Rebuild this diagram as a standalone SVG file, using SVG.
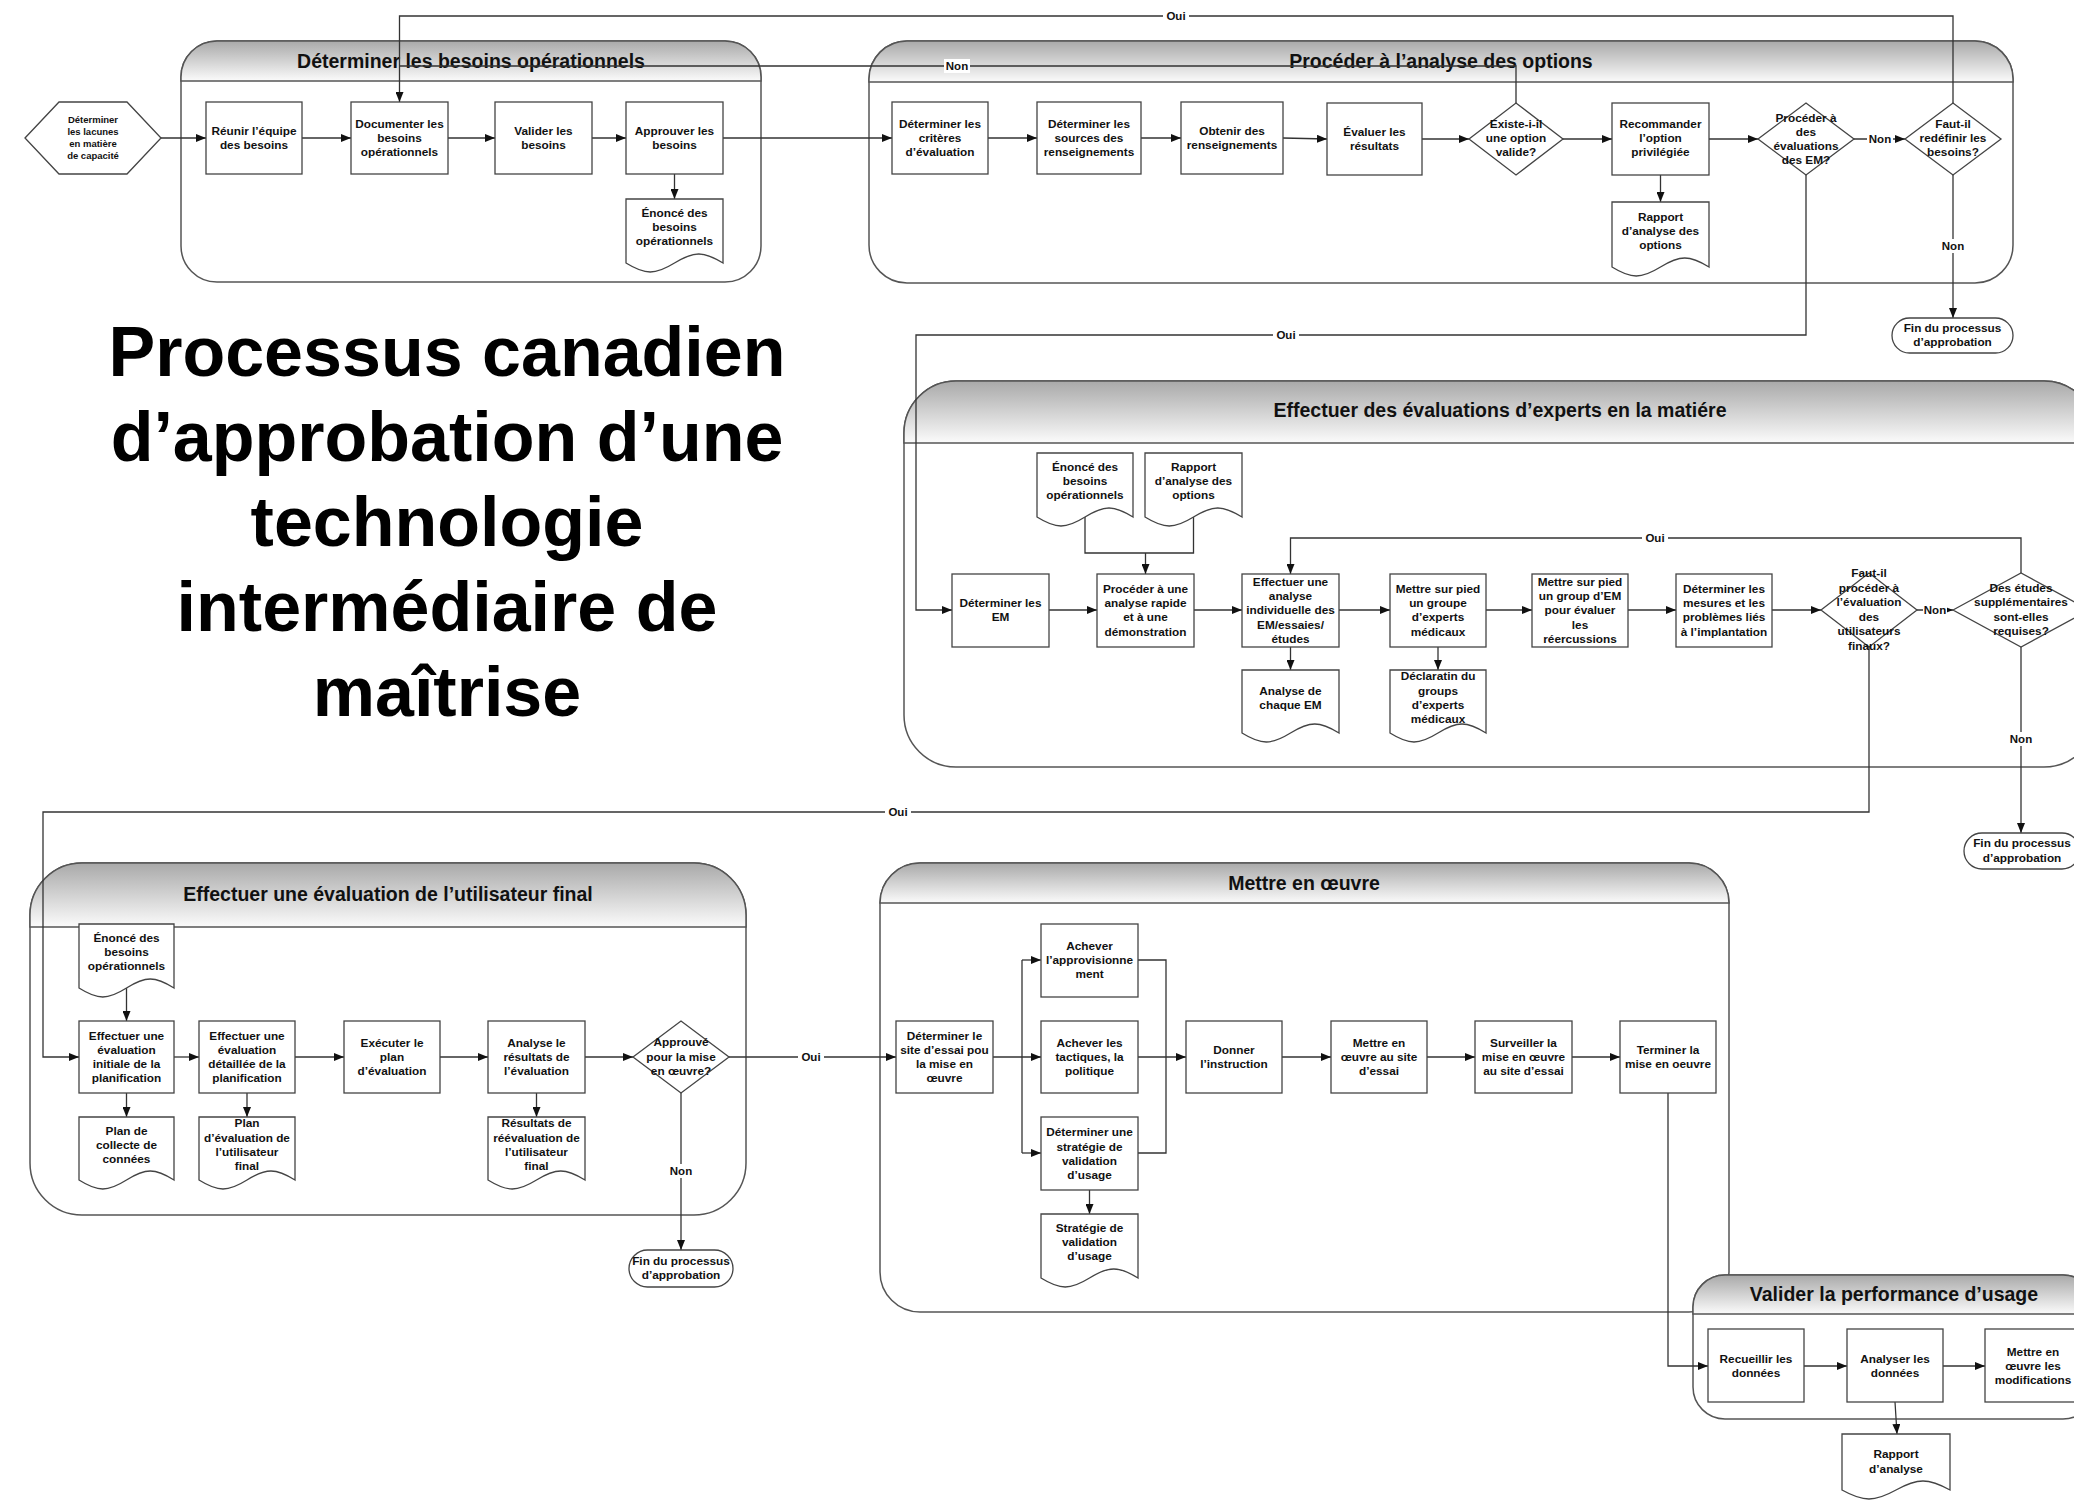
<svg xmlns="http://www.w3.org/2000/svg" width="2074" height="1501" viewBox="0 0 2074 1501">
<defs>
<linearGradient id="hg" x1="0" y1="0" x2="0" y2="1"><stop offset="0" stop-color="#a9a9a9"/><stop offset="1" stop-color="#fbfbfb"/></linearGradient>
<marker id="ah" viewBox="0 0 10 8" refX="10" refY="4" markerWidth="10" markerHeight="8" markerUnits="userSpaceOnUse" orient="auto"><path d="M0,0L10,4L0,8z" fill="#111"/></marker>
<style>
.pool{fill:#fff;stroke:#555;stroke-width:1.5}
.hdr{fill:url(#hg);stroke:#555;stroke-width:1.5}
.pt{font:bold 19.5px 'Liberation Sans',Arial,sans-serif;text-anchor:middle;fill:#111}
.b{fill:#fff;stroke:#444;stroke-width:1.3}
.t{font:bold 11.8px 'Liberation Sans',Arial,sans-serif;text-anchor:middle;fill:#111}
.hx{font:bold 9.5px 'Liberation Sans',Arial,sans-serif;text-anchor:middle;fill:#111}
.c{fill:none;stroke:#333;stroke-width:1.3}
.a{marker-end:url(#ah)}
.lb{font:bold 11.5px 'Liberation Sans',Arial,sans-serif;text-anchor:middle;fill:#111}
.lbg{fill:#fff}
.big{font:bold 70px 'Liberation Sans',Arial,sans-serif;text-anchor:middle;fill:#000}
</style>
</defs>
<rect width="2074" height="1501" fill="#fff"/>

<g id="title">
<text class="big"><tspan x="447" y="376">Processus canadien</tspan><tspan x="447" y="461">d’approbation d’une</tspan><tspan x="447" y="546">technologie</tspan><tspan x="447" y="631">intermédiaire de</tspan><tspan x="447" y="716">maîtrise</tspan></text>
</g>

<g id="pools">
<g id="pool-besoins">
<rect class="pool" x="181" y="41" width="580" height="241" rx="36"/>
<path class="hdr" d="M181,81V77A36,36 0 0 1 217,41H725A36,36 0 0 1 761,77V81Z"/>
<text class="pt" x="471" y="68">Déterminer les besoins opérationnels</text>
</g>
<g id="pool-options">
<rect class="pool" x="869" y="41" width="1144" height="242" rx="38"/>
<path class="hdr" d="M869,82V79A38,38 0 0 1 907,41H1975A38,38 0 0 1 2013,79V82Z"/>
<text class="pt" x="1441" y="68">Procéder à l’analyse des options</text>
</g>
<g id="pool-experts">
<rect class="pool" x="904" y="381" width="1192" height="386" rx="52"/>
<path class="hdr" d="M904,443V433A52,52 0 0 1 956,381H2044A52,52 0 0 1 2096,433V443Z"/>
<text class="pt" x="1500" y="417">Effectuer des évaluations d’experts en la matiére</text>
</g>
<g id="pool-utilisateur">
<rect class="pool" x="30" y="863" width="716" height="352" rx="52"/>
<path class="hdr" d="M30,927V915A52,52 0 0 1 82,863H694A52,52 0 0 1 746,915V927Z"/>
<text class="pt" x="388" y="901">Effectuer une évaluation de l’utilisateur final</text>
</g>
<g id="pool-oeuvre">
<rect class="pool" x="880" y="863" width="849" height="449" rx="40"/>
<path class="hdr" d="M880,903A40,40 0 0 1 920,863H1689A40,40 0 0 1 1729,903Z"/>
<text class="pt" x="1304" y="890">Mettre en œuvre</text>
</g>
<g id="pool-valider">
<rect class="pool" x="1693" y="1275" width="402" height="144" rx="32"/>
<path class="hdr" d="M1693,1314V1307A32,32 0 0 1 1725,1275H2063A32,32 0 0 1 2095,1307V1314Z"/>
<text class="pt" x="1894" y="1301">Valider la performance d’usage</text>
</g>
</g>

<g id="connectors">
<path class="c a" d="M161,138H206"/>
<path class="c a" d="M302,138H351"/>
<path class="c a" d="M448,138H495"/>
<path class="c a" d="M592,138H626"/>
<path class="c a" d="M674.5,174V199"/>
<path class="c a" d="M723,138H892"/>
<path class="c a" d="M988,138H1037"/>
<path class="c a" d="M1141,138H1181"/>
<path class="c a" d="M1283,138L1327,139"/>
<path class="c a" d="M1422,139H1469"/>
<path class="c a" d="M1563,139H1612"/>
<path class="c a" d="M1660.5,175V202"/>
<path class="c a" d="M1709,139H1758"/>
<path class="c a" d="M1854,139H1905"/>
<path class="c a" d="M1953,103V16H399.5V102"/>
<path class="c" d="M1516,103V66H399.5"/>
<path class="c a" d="M1953,175V318"/>
<path class="c a" d="M1806,175V335H916V610H952"/>
<path class="c a" d="M1049,610H1097"/>
<path class="c a" d="M1194,610H1242"/>
<path class="c a" d="M1339,610H1390"/>
<path class="c a" d="M1486,610H1532"/>
<path class="c a" d="M1628,610H1676"/>
<path class="c a" d="M1772,610H1821"/>
<path class="c a" d="M1917,610H1953"/>
<path class="c" d="M1085,517V553H1193.5V517"/>
<path class="c a" d="M1145.5,553V574"/>
<path class="c a" d="M1290.5,647V670"/>
<path class="c a" d="M1438,647V670"/>
<path class="c a" d="M2021,573V538H1290.5V574"/>
<path class="c a" d="M2021,647V833"/>
<path class="c a" d="M1869,647V812H43V1057H79"/>
<path class="c a" d="M126.5,988V1021"/>
<path class="c a" d="M174,1057H199"/>
<path class="c a" d="M295,1057H344"/>
<path class="c a" d="M440,1057H488"/>
<path class="c a" d="M585,1057H633"/>
<path class="c a" d="M126.5,1093V1117"/>
<path class="c a" d="M247,1093V1117"/>
<path class="c a" d="M536.5,1093V1117"/>
<path class="c a" d="M681,1093V1250"/>
<path class="c a" d="M729,1057H896"/>
<path class="c a" d="M993,1057H1041"/>
<path class="c" d="M1022,960V1153"/>
<path class="c a" d="M1022,960H1041"/>
<path class="c a" d="M1022,1153H1041"/>
<path class="c" d="M1138,960H1166V1153H1138"/>
<path class="c a" d="M1138,1057H1186"/>
<path class="c a" d="M1089.5,1190V1214"/>
<path class="c a" d="M1282,1057H1331"/>
<path class="c a" d="M1427,1057H1475"/>
<path class="c a" d="M1572,1057H1620"/>
<path class="c a" d="M1668,1093V1366H1708"/>
<path class="c a" d="M1804,1366H1847"/>
<path class="c a" d="M1943,1366H1985"/>
<path class="c a" d="M1895,1402L1897,1434"/>
<g id="labels">
<rect class="lbg" x="1163" y="9" width="26" height="14"/><text class="lb" x="1176" y="20">Oui</text>
<rect class="lbg" x="944" y="59" width="26" height="14"/><text class="lb" x="957" y="70">Non</text>
<rect class="lbg" x="1867" y="132" width="26" height="14"/><text class="lb" x="1880" y="143">Non</text>
<rect class="lbg" x="1940" y="239" width="26" height="14"/><text class="lb" x="1953" y="250">Non</text>
<rect class="lbg" x="1273" y="328" width="26" height="14"/><text class="lb" x="1286" y="339">Oui</text>
<rect class="lbg" x="1642" y="531" width="26" height="14"/><text class="lb" x="1655" y="542">Oui</text>
<rect class="lbg" x="1923" y="603" width="24" height="14"/><text class="lb" x="1935" y="614">Non</text>
<rect class="lbg" x="2008" y="732" width="26" height="14"/><text class="lb" x="2021" y="743">Non</text>
<rect class="lbg" x="885" y="805" width="26" height="14"/><text class="lb" x="898" y="816">Oui</text>
<rect class="lbg" x="798" y="1050" width="26" height="14"/><text class="lb" x="811" y="1061">Oui</text>
<rect class="lbg" x="668" y="1164" width="26" height="14"/><text class="lb" x="681" y="1175">Non</text>
</g>
</g>

<g id="nodes">
<g id="n-lacunes"><polygon class="b" points="25,138 59,102 127,102 161,138 127,174 59,174"/><text class="hx"><tspan x="93" y="122.5">Déterminer</tspan><tspan x="93" y="135">les lacunes</tspan><tspan x="93" y="146.5">en matière</tspan><tspan x="93" y="158.5">de capacité</tspan></text></g>
<g id="n-reunir"><rect class="b" x="206" y="102" width="96" height="72"/><text class="t"><tspan x="254" y="135">Réunir l’équipe</tspan><tspan x="254" y="149">des besoins</tspan></text></g>
<g id="n-documenter"><rect class="b" x="351" y="102" width="97" height="72"/><text class="t"><tspan x="399.5" y="128">Documenter les</tspan><tspan x="399.5" y="142">besoins</tspan><tspan x="399.5" y="156">opérationnels</tspan></text></g>
<g id="n-valider"><rect class="b" x="495" y="102" width="97" height="72"/><text class="t"><tspan x="543.5" y="135">Valider les</tspan><tspan x="543.5" y="149">besoins</tspan></text></g>
<g id="n-approuver"><rect class="b" x="626" y="102" width="97" height="72"/><text class="t"><tspan x="674.5" y="135">Approuver les</tspan><tspan x="674.5" y="149">besoins</tspan></text></g>
<g id="d-enonce1"><path class="b" d="M626,199H723V263C703.6,251 693.9,251 674.5,263S645.4,275 626,263Z"/><text class="t"><tspan x="674.5" y="217">Énoncé des</tspan><tspan x="674.5" y="231">besoins</tspan><tspan x="674.5" y="245">opérationnels</tspan></text></g>

<g id="n-criteres"><rect class="b" x="892" y="102" width="96" height="72"/><text class="t"><tspan x="940" y="128">Déterminer les</tspan><tspan x="940" y="142">critères</tspan><tspan x="940" y="156">d’évaluation</tspan></text></g>
<g id="n-sources"><rect class="b" x="1037" y="102" width="104" height="72"/><text class="t"><tspan x="1089" y="128">Déterminer les</tspan><tspan x="1089" y="142">sources des</tspan><tspan x="1089" y="156">renseignements</tspan></text></g>
<g id="n-obtenir"><rect class="b" x="1181" y="102" width="102" height="72"/><text class="t"><tspan x="1232" y="135">Obtenir des</tspan><tspan x="1232" y="149">renseignements</tspan></text></g>
<g id="n-evaluer"><rect class="b" x="1327" y="103" width="95" height="72"/><text class="t"><tspan x="1374.5" y="136">Évaluer les</tspan><tspan x="1374.5" y="150">résultats</tspan></text></g>
<g id="q-existe"><polygon class="b" points="1469,139 1516,103 1563,139 1516,175"/><text class="t"><tspan x="1516" y="128">Existe-i-il</tspan><tspan x="1516" y="142">une option</tspan><tspan x="1516" y="156">valide?</tspan></text></g>
<g id="n-recommander"><rect class="b" x="1612" y="103" width="97" height="72"/><text class="t"><tspan x="1660.5" y="128">Recommander</tspan><tspan x="1660.5" y="142">l’option</tspan><tspan x="1660.5" y="156">privilégiée</tspan></text></g>
<g id="d-rapport1"><path class="b" d="M1612,202H1709V267C1689.6,255 1679.9,255 1660.5,267S1631.4,279 1612,267Z"/><text class="t"><tspan x="1660.5" y="221">Rapport</tspan><tspan x="1660.5" y="235">d’analyse des</tspan><tspan x="1660.5" y="249">options</tspan></text></g>
<g id="q-proceder"><polygon class="b" points="1758,139 1806,103 1854,139 1806,175"/><text class="t"><tspan x="1806" y="121.5">Procéder à</tspan><tspan x="1806" y="135.5">des</tspan><tspan x="1806" y="149.5">évaluations</tspan><tspan x="1806" y="163.5">des EM?</tspan></text></g>
<g id="q-redefinir"><polygon class="b" points="1905,139 1953,103 2001,139 1953,175"/><text class="t"><tspan x="1953" y="128">Faut-il</tspan><tspan x="1953" y="142">redéfinir les</tspan><tspan x="1953" y="156">besoins?</tspan></text></g>
<g id="e-fin1"><rect class="b" x="1892" y="318" width="121" height="35" rx="17.5"/><text class="t"><tspan x="1952.5" y="332">Fin du processus</tspan><tspan x="1952.5" y="346">d’approbation</tspan></text></g>

<g id="d-enonce2"><path class="b" d="M1037,453H1133V517C1113.8,505 1104.2,505 1085,517S1056.2,529 1037,517Z"/><text class="t"><tspan x="1085" y="471">Énoncé des</tspan><tspan x="1085" y="485">besoins</tspan><tspan x="1085" y="499">opérationnels</tspan></text></g>
<g id="d-rapport2"><path class="b" d="M1145,453H1242V517C1222.6,505 1212.9,505 1193.5,517S1164.4,529 1145,517Z"/><text class="t"><tspan x="1193.5" y="471">Rapport</tspan><tspan x="1193.5" y="485">d’analyse des</tspan><tspan x="1193.5" y="499">options</tspan></text></g>
<g id="n-em"><rect class="b" x="952" y="574" width="97" height="73"/><text class="t"><tspan x="1000.5" y="607">Déterminer les</tspan><tspan x="1000.5" y="621">EM</tspan></text></g>
<g id="n-rapide"><rect class="b" x="1097" y="574" width="97" height="73"/><text class="t"><tspan x="1145.5" y="593">Procéder à une</tspan><tspan x="1145.5" y="607">analyse rapide</tspan><tspan x="1145.5" y="621">et à une</tspan><tspan x="1145.5" y="635.5">démonstration</tspan></text></g>
<g id="n-individuelle"><rect class="b" x="1242" y="574" width="97" height="73"/><text class="t"><tspan x="1290.5" y="586">Effectuer une</tspan><tspan x="1290.5" y="600">analyse</tspan><tspan x="1290.5" y="614">individuelle des</tspan><tspan x="1290.5" y="628.5">EM/essaies/</tspan><tspan x="1290.5" y="642.5">études</tspan></text></g>
<g id="n-groupe"><rect class="b" x="1390" y="574" width="96" height="73"/><text class="t"><tspan x="1438" y="593">Mettre sur pied</tspan><tspan x="1438" y="607">un groupe</tspan><tspan x="1438" y="621">d’experts</tspan><tspan x="1438" y="635.5">médicaux</tspan></text></g>
<g id="n-groupem"><rect class="b" x="1532" y="574" width="96" height="73"/><text class="t"><tspan x="1580" y="586">Mettre sur pied</tspan><tspan x="1580" y="600">un group d’EM</tspan><tspan x="1580" y="614">pour évaluer</tspan><tspan x="1580" y="628.5">les</tspan><tspan x="1580" y="642.5">réercussions</tspan></text></g>
<g id="n-mesures"><rect class="b" x="1676" y="574" width="96" height="73"/><text class="t"><tspan x="1724" y="593">Déterminer les</tspan><tspan x="1724" y="607">mesures et les</tspan><tspan x="1724" y="621">problèmes liés</tspan><tspan x="1724" y="635.5">à l’implantation</tspan></text></g>
<g id="q-utilisateurs"><polygon class="b" points="1821,610 1869,573 1917,610 1869,647"/><text class="t"><tspan x="1869" y="577">Faut-il</tspan><tspan x="1869" y="592">procéder à</tspan><tspan x="1869" y="606">l’évaluation</tspan><tspan x="1869" y="621">des</tspan><tspan x="1869" y="635">utilisateurs</tspan><tspan x="1869" y="650">finaux?</tspan></text></g>
<g id="q-etudes"><polygon class="b" points="1953,610 2021,573 2089,610 2021,647"/><text class="t"><tspan x="2021" y="592">Des études</tspan><tspan x="2021" y="606">supplémentaires</tspan><tspan x="2021" y="621">sont-elles</tspan><tspan x="2021" y="635">requises?</tspan></text></g>
<g id="d-analyse-em"><path class="b" d="M1242,670H1339V733C1319.6,721 1309.9,721 1290.5,733S1261.4,745 1242,733Z"/><text class="t"><tspan x="1290.5" y="695">Analyse de</tspan><tspan x="1290.5" y="709">chaque EM</tspan></text></g>
<g id="d-declaratin"><path class="b" d="M1390,670H1486V733C1466.8,721 1457.2,721 1438,733S1409.2,745 1390,733Z"/><text class="t"><tspan x="1438" y="680">Déclaratin du</tspan><tspan x="1438" y="695">groups</tspan><tspan x="1438" y="709">d’experts</tspan><tspan x="1438" y="723">médicaux</tspan></text></g>
<g id="e-fin2"><rect class="b" x="1964" y="833" width="116" height="36" rx="18"/><text class="t"><tspan x="2022" y="847">Fin du processus</tspan><tspan x="2022" y="862">d’approbation</tspan></text></g>

<g id="d-enonce3"><path class="b" d="M79,924H174V988C155,976 145.5,976 126.5,988S98,1000 79,988Z"/><text class="t"><tspan x="126.5" y="942">Énoncé des</tspan><tspan x="126.5" y="956">besoins</tspan><tspan x="126.5" y="970">opérationnels</tspan></text></g>
<g id="n-initiale"><rect class="b" x="79" y="1021" width="95" height="72"/><text class="t"><tspan x="126.5" y="1040">Effectuer une</tspan><tspan x="126.5" y="1054">évaluation</tspan><tspan x="126.5" y="1068">initiale de la</tspan><tspan x="126.5" y="1082">planification</tspan></text></g>
<g id="n-detaillee"><rect class="b" x="199" y="1021" width="96" height="72"/><text class="t"><tspan x="247" y="1040">Effectuer une</tspan><tspan x="247" y="1054">évaluation</tspan><tspan x="247" y="1068">détaillée de la</tspan><tspan x="247" y="1082">planification</tspan></text></g>
<g id="n-executer"><rect class="b" x="344" y="1021" width="96" height="72"/><text class="t"><tspan x="392" y="1047">Exécuter le</tspan><tspan x="392" y="1061">plan</tspan><tspan x="392" y="1075">d’évaluation</tspan></text></g>
<g id="n-analyse-res"><rect class="b" x="488" y="1021" width="97" height="72"/><text class="t"><tspan x="536.5" y="1047">Analyse le</tspan><tspan x="536.5" y="1061">résultats de</tspan><tspan x="536.5" y="1075">l’évaluation</tspan></text></g>
<g id="q-approuve"><polygon class="b" points="633,1057 681,1021 729,1057 681,1093"/><text class="t"><tspan x="681" y="1046">Approuvé</tspan><tspan x="681" y="1061">pour la mise</tspan><tspan x="681" y="1075">en œuvre?</tspan></text></g>
<g id="d-collecte"><path class="b" d="M79,1117H174V1180C155,1168 145.5,1168 126.5,1180S98,1192 79,1180Z"/><text class="t"><tspan x="126.5" y="1135">Plan de</tspan><tspan x="126.5" y="1149">collecte de</tspan><tspan x="126.5" y="1163">connées</tspan></text></g>
<g id="d-plan-eval"><path class="b" d="M199,1117H295V1180C275.8,1168 266.2,1168 247,1180S218.2,1192 199,1180Z"/><text class="t"><tspan x="247" y="1127">Plan</tspan><tspan x="247" y="1142">d’évaluation de</tspan><tspan x="247" y="1156">l’utilisateur</tspan><tspan x="247" y="1170">final</tspan></text></g>
<g id="d-resultats"><path class="b" d="M488,1117H585V1180C565.6,1168 555.9,1168 536.5,1180S507.4,1192 488,1180Z"/><text class="t"><tspan x="536.5" y="1127">Résultats de</tspan><tspan x="536.5" y="1142">réévaluation de</tspan><tspan x="536.5" y="1156">l’utilisateur</tspan><tspan x="536.5" y="1170">final</tspan></text></g>
<g id="e-fin3"><rect class="b" x="629" y="1250" width="104" height="37" rx="18.5"/><text class="t"><tspan x="681" y="1265">Fin du processus</tspan><tspan x="681" y="1279">d’approbation</tspan></text></g>

<g id="n-site"><rect class="b" x="896" y="1021" width="97" height="72"/><text class="t"><tspan x="944.5" y="1040">Déterminer le</tspan><tspan x="944.5" y="1054">site d’essai pou</tspan><tspan x="944.5" y="1068">la mise en</tspan><tspan x="944.5" y="1082">œuvre</tspan></text></g>
<g id="n-approv"><rect class="b" x="1041" y="924" width="97" height="73"/><text class="t"><tspan x="1089.5" y="950">Achever</tspan><tspan x="1089.5" y="964">l’approvisionne</tspan><tspan x="1089.5" y="978">ment</tspan></text></g>
<g id="n-tactiques"><rect class="b" x="1041" y="1021" width="97" height="72"/><text class="t"><tspan x="1089.5" y="1047">Achever les</tspan><tspan x="1089.5" y="1061">tactiques, la</tspan><tspan x="1089.5" y="1075">politique</tspan></text></g>
<g id="n-strategie"><rect class="b" x="1041" y="1117" width="97" height="73"/><text class="t"><tspan x="1089.5" y="1136">Déterminer une</tspan><tspan x="1089.5" y="1150.5">stratégie de</tspan><tspan x="1089.5" y="1164.5">validation</tspan><tspan x="1089.5" y="1179">d’usage</tspan></text></g>
<g id="d-strategie"><path class="b" d="M1041,1214H1138V1278C1118.6,1266 1108.9,1266 1089.5,1278S1060.4,1290 1041,1278Z"/><text class="t"><tspan x="1089.5" y="1232">Stratégie de</tspan><tspan x="1089.5" y="1246">validation</tspan><tspan x="1089.5" y="1260">d’usage</tspan></text></g>
<g id="n-donner"><rect class="b" x="1186" y="1021" width="96" height="72"/><text class="t"><tspan x="1234" y="1054">Donner</tspan><tspan x="1234" y="1068">l’instruction</tspan></text></g>
<g id="n-mettre-site"><rect class="b" x="1331" y="1021" width="96" height="72"/><text class="t"><tspan x="1379" y="1047">Mettre en</tspan><tspan x="1379" y="1061">œuvre au site</tspan><tspan x="1379" y="1075">d’essai</tspan></text></g>
<g id="n-surveiller"><rect class="b" x="1475" y="1021" width="97" height="72"/><text class="t"><tspan x="1523.5" y="1047">Surveiller la</tspan><tspan x="1523.5" y="1061">mise en œuvre</tspan><tspan x="1523.5" y="1075">au site d’essai</tspan></text></g>
<g id="n-terminer"><rect class="b" x="1620" y="1021" width="96" height="72"/><text class="t"><tspan x="1668" y="1054">Terminer la</tspan><tspan x="1668" y="1068">mise en oeuvre</tspan></text></g>

<g id="n-recueillir"><rect class="b" x="1708" y="1329" width="96" height="73"/><text class="t"><tspan x="1756" y="1362.5">Recueillir les</tspan><tspan x="1756" y="1376.5">données</tspan></text></g>
<g id="n-analyser"><rect class="b" x="1847" y="1329" width="96" height="73"/><text class="t"><tspan x="1895" y="1362.5">Analyser les</tspan><tspan x="1895" y="1376.5">données</tspan></text></g>
<g id="n-modifs"><rect class="b" x="1985" y="1329" width="96" height="73"/><text class="t"><tspan x="2033" y="1355.5">Mettre en</tspan><tspan x="2033" y="1369.5">œuvre les</tspan><tspan x="2033" y="1384">modifications</tspan></text></g>
<g id="d-rapport3"><path class="b" d="M1842,1434H1950V1490C1928.4,1478 1917.6,1478 1896,1490S1863.6,1502 1842,1490Z"/><text class="t"><tspan x="1896" y="1458">Rapport</tspan><tspan x="1896" y="1473">d’analyse</tspan></text></g>
</g>
</svg>
